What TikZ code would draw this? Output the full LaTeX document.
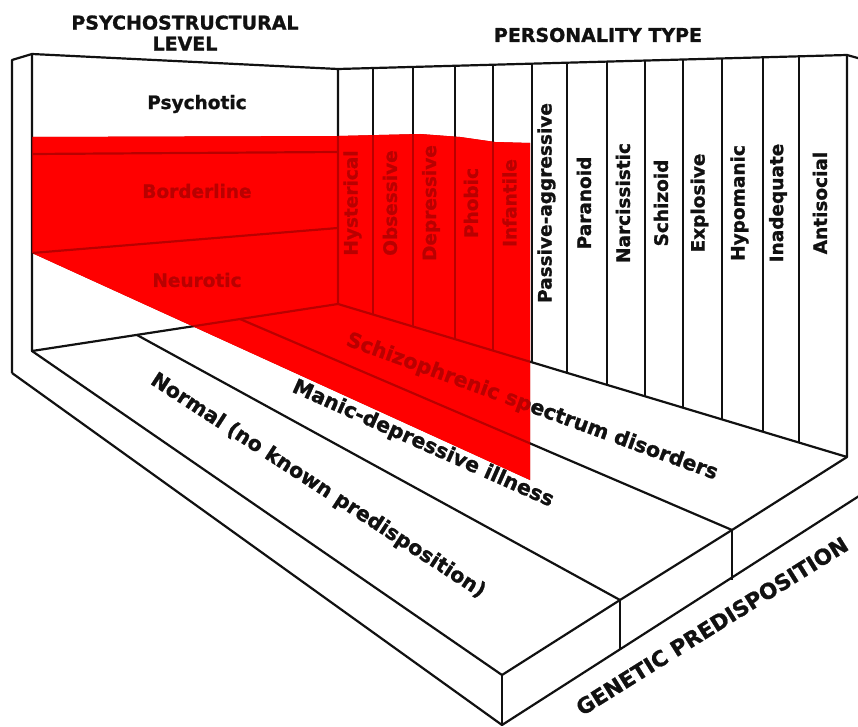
\documentclass[tikz,border=0pt]{standalone}
\usepackage{fontspec}
\setsansfont{DejaVu Sans}[BoldFeatures={FakeBold=1.2}]
\usetikzlibrary{calc}
\definecolor{overlayred}{HTML}{FF0000}
\definecolor{shadered}{HTML}{B40000}
\definecolor{inkblack}{HTML}{111111}

\tikzset{
  edge/.style={draw=inkblack, line width=2.2pt, line join=round},
  headtext/.style={font=\sffamily\bfseries\fontsize{19}{21}\selectfont, align=center, text=inkblack},
  walltext/.style={font=\sffamily\bfseries\fontsize{18.5}{20}\selectfont, text=inkblack},
  typetext/.style={walltext, rotate=90},
  floortext/.style={font=\sffamily\bfseries\fontsize{20.5}{22}\selectfont, text=inkblack},
}

\begin{document}
\begin{tikzpicture}[x=1pt, y=-1pt]
    \useasboundingbox (0,0) rectangle (858,727);
    \clip (0,0) rectangle (858,727);

    % Corner points of the box
    \coordinate (lwo) at (12,60);
    \coordinate (lwi) at (32,54);
    \coordinate (bc) at (338,69);
    \coordinate (bwr) at (847,55);
    \coordinate (lwob) at (12,373);
    \coordinate (lwb) at (32,351);
    \coordinate (bcb) at (338,304);
    \coordinate (bwrb) at (847,457);
    \coordinate (ff) at (502,675);
    \coordinate (fb) at (502,725);
    \coordinate (f2) at (620,600);
    \coordinate (f2b) at (620,650);
    \coordinate (f3) at (732,530);
    \coordinate (f3b) at (732,580);
    \coordinate (s2) at (137,335);
    \coordinate (s3) at (240,319);

    % Headings
    \node[headtext] (levelhead) at (185,33) {PSYCHOSTRUCTURAL\\LEVEL};
    \node[headtext] (typehead) at (598,35) {PERSONALITY TYPE};

    % Walls and floor
    \draw[edge] (lwob) -- (lwo) -- (lwi) -- (bc) -- (bwr) -- (872,62);
    \draw[edge] (lwi) -- (lwb) -- (bcb) -- (bc);
    \draw[edge] (bcb) -- (bwrb) -- (bwr);
    \draw[edge] (lwob) -- (fb) -- (884,480);
    \draw[edge] (lwb) -- (ff) -- (f2) -- (f3) -- (bwrb);
    \draw[edge] (ff) -- (fb);
    \draw[edge] (f2) -- (f2b);
    \draw[edge] (f3) -- (f3b);
    \draw[edge] (s2) -- (f2);
    \draw[edge] (s3) -- (f3);

    % Psychostructural levels
    \draw[edge] (32,154) -- (338,152);
    \draw[edge] (32,253) -- (338,228);
    \node[walltext] (psychotic) at (197,104) {Psychotic};
    \node[walltext] (borderline) at (197,191) {Borderline};
    \node[walltext] (neurotic) at (197,280) {Neurotic};

    % Personality types
    \foreach \xa/\xb/\lbl in {338/373/Hysterical, 373/413/Obsessive, 413/455/Depressive,
        455/493/Phobic, 493/532/Infantile, 532/567/Passive-aggressive, 567/607/Paranoid,
        607/645/Narcissistic, 645/683/Schizoid, 683/722/Explosive, 722/763/Hypomanic,
        763/799/Inadequate, 799/847/Antisocial} {
      \draw[edge] ($(bc)!{(\xb-338)/509}!(bwr)$) -- ($(bcb)!{(\xb-338)/509}!(bwrb)$);
      \node[typetext] (type\xb) at ({(\xa+\xb)/2-3},203) {\lbl};
    }

    % Genetic predisposition
    \node[floortext] (normal) at (318,486) [rotate=-33] {Normal (no known predisposition)};
    \node[floortext] (schizo) at (532,407) [rotate=-20] {Schizophrenic spectrum disorders};

    % Red overlay
    \begin{scope}[blend mode=multiply]
      \fill[overlayred] (32,137) -- (338,136) -- (420,134) -- (460,137) -- (495,142)
        -- (530,143) -- (530,480) -- (32,253) -- cycle;
    \end{scope}
    \begin{scope}[blend mode=screen]
      \fill[shadered] (32,137) -- (338,136) -- (420,134) -- (460,137) -- (495,142)
        -- (530,143) -- (530,480) -- (32,253) -- cycle;
    \end{scope}

    \node[floortext] (manic) at (423,444) [rotate=-24] {Manic-depressive illness};
    \node[floortext, font=\sffamily\bfseries\fontsize{21.5}{23}\selectfont] (genetic) at (712,626) [rotate=32] {GENETIC PREDISPOSITION};
\end{tikzpicture}
\end{document}
